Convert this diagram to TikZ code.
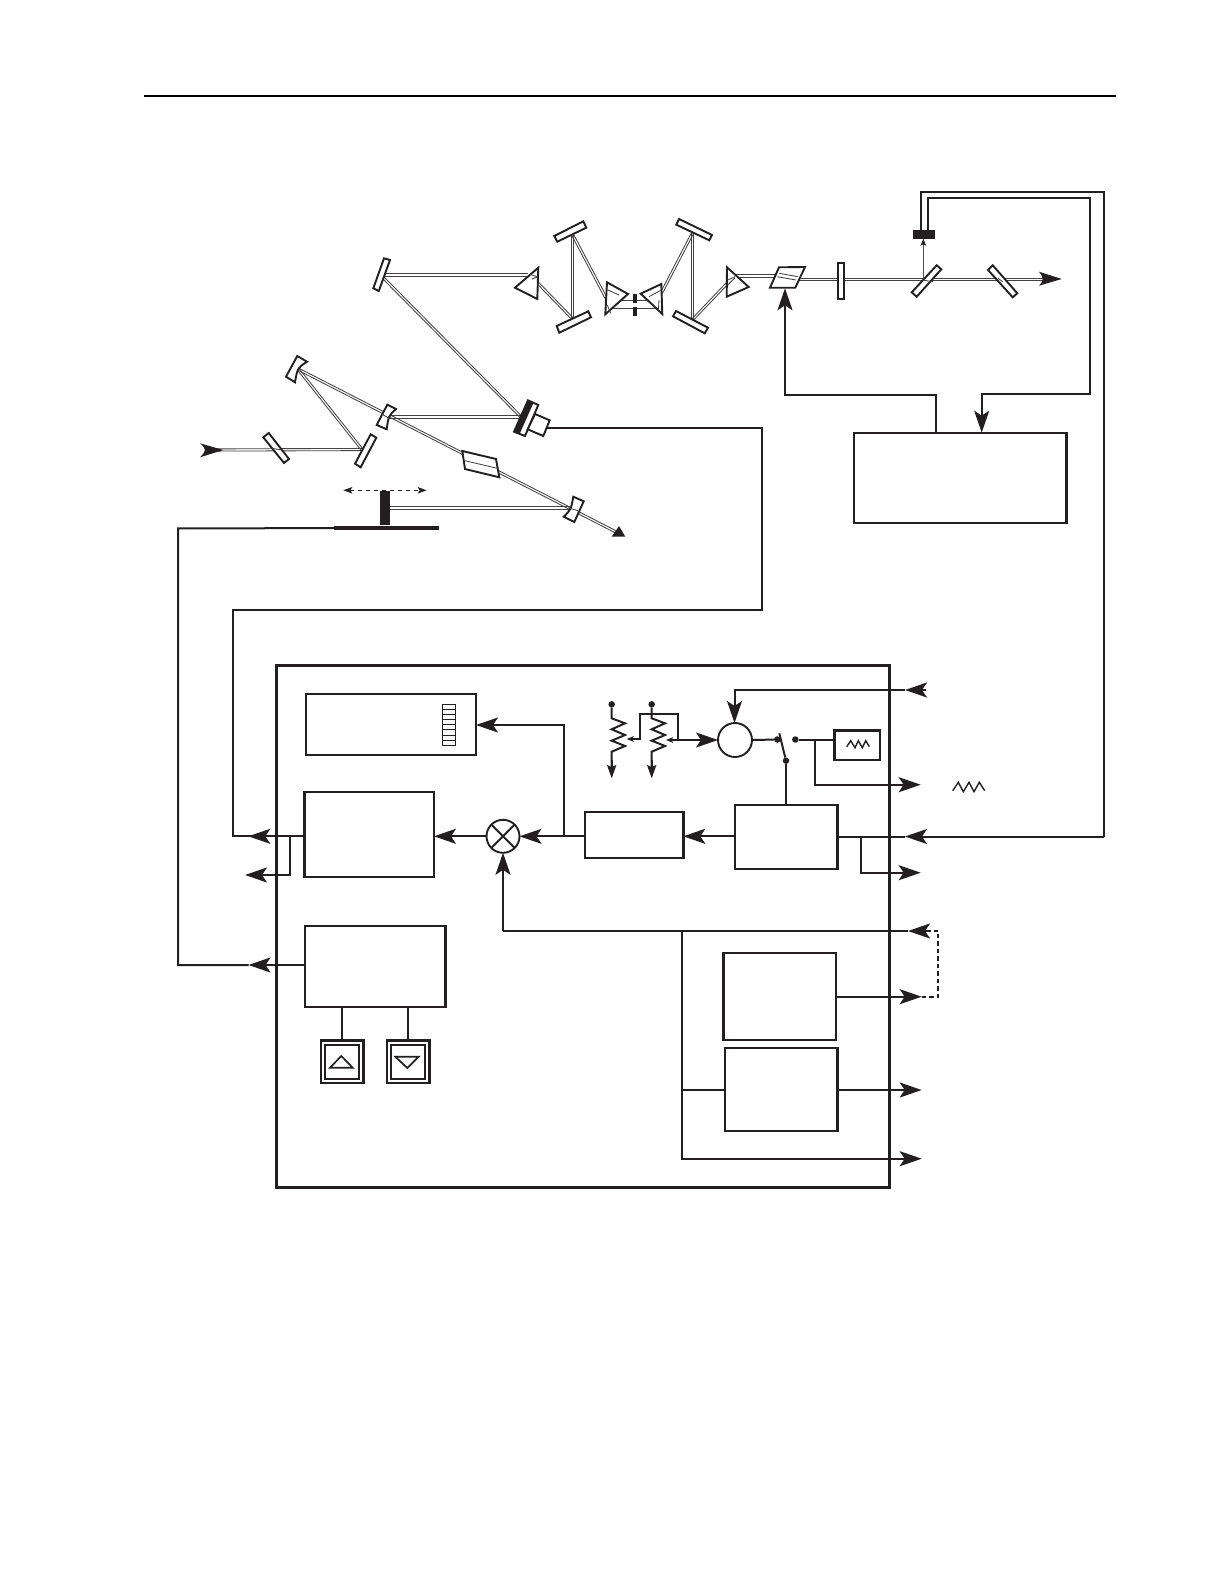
\documentclass[tikz,border=0pt]{standalone}
\usetikzlibrary{arrows.meta,calc}
\definecolor{ink}{HTML}{231F20}
\tikzset{
  x=1pt,y=-1pt,
  wire/.style={draw=ink,line width=2pt},
  bigtip/.style={-{Stealth[length=22pt,width=15pt,inset=5pt,color=ink]}},
  midtip/.style={-{Stealth[length=13pt,width=9pt,inset=1.5pt,color=ink]}},
  smalltip/.style={-{Stealth[length=7pt,width=5.5pt,inset=1.5pt,color=ink]}},
  ray/.style={draw=ink!85,line width=.85pt},
  optic/.style={draw=ink,line width=1.9pt,fill=white},
  blockbox/.style={draw=ink,line width=2.4pt,fill=white,inner sep=0pt,outer sep=0pt},
  solid ink/.style={fill=ink,draw=none,inner sep=0pt,outer sep=0pt},
  dot/.style={circle,fill=ink,draw=none,minimum size=6.5pt,inner sep=0pt,outer sep=0pt},
  ringnode/.style={circle,draw=ink,line width=1.9pt,fill=white,inner sep=0pt,outer sep=0pt},
}
\newcommand{\beamseg}[2]{%
  \draw[ray] ($(#1)!1.1pt!90:(#2)$) -- ($(#2)!1.1pt!-90:(#1)$);
  \draw[ray] ($(#1)!1.1pt!-90:(#2)$) -- ($(#2)!1.1pt!90:(#1)$);}
\begin{document}
\begin{tikzpicture}
\useasboundingbox (0,0) rectangle (1224,1584);
\draw[draw=black,line width=2pt] (144,95.7) -- (1116,95.7);

% ---------- beam way-points
\coordinate (bIn) at (212,450);
\coordinate (bTurnA) at (362,449.5);
\coordinate (bCurvA) at (298,369);
\coordinate (bCurvB) at (387,415);
\coordinate (bCurvC) at (573,508);
\coordinate (bDump) at (618,533);
\coordinate (bStage) at (388,508);
\coordinate (bDet) at (521,417);
\coordinate (bDetC) at (388,417);
\coordinate (bFold) at (382,276.5);
\coordinate (bFoldB) at (384,275);
\coordinate (bPrA) at (528,275);
\coordinate (bPrAo) at (533,278);
\coordinate (bMA) at (572.7,319);
\coordinate (bMB) at (572.7,235);
\coordinate (bPrB) at (606,298);
\coordinate (bPrC) at (661.5,293);
\coordinate (bMC) at (692.7,232.7);
\coordinate (bMD) at (692.7,319.5);
\coordinate (bPrD) at (727.5,283);
\coordinate (bPrDo) at (733,276);
\coordinate (bRhomb) at (780,276);
\coordinate (bRhombo) at (797,279.5);
\coordinate (bSplit) at (923.3,279.5);
\coordinate (bOut) at (1044,279.5);

% ---------- beams
\beamseg{bIn}{bTurnA}
\beamseg{bTurnA}{bCurvA}
\beamseg{bCurvA}{bDump}
\beamseg{bStage}{bCurvC}
\beamseg{bDetC}{bDet}
\beamseg{bDet}{bFold}
\beamseg{bFoldB}{bPrA}
\beamseg{bPrAo}{bMA}
\beamseg{bMA}{bMB}
\beamseg{bMB}{bPrB}
\draw[ray] (610,300.7) -- (661,300.7);
\draw[ray] (610,308.3) -- (661,308.3);
\beamseg{bPrC}{bMC}
\beamseg{bMC}{bMD}
\beamseg{bMD}{bPrD}
\beamseg{bPrDo}{bRhomb}
\beamseg{bRhombo}{bSplit}
\beamseg{bSplit}{bOut}

% ---------- mirrors, plates, prisms
\draw[optic] (373.3,288.3) -- (384,258.3) -- (390,260) -- (378.8,291) -- cycle;
\draw[optic] (263.3,437.3) -- (268.7,433) -- (289,459) -- (284,463) -- cycle;
\draw[optic] (355,463.7) -- (370.7,434.3) -- (376.3,437.7) -- (360.7,467.3) -- cycle;
\draw[optic] (286,376.7) -- (297.3,356) -- (307,361.7) .. controls (297.5,368) .. (295,382.3) -- cycle;
\draw[optic] (376.7,425) -- (387.3,404.7) -- (396,409) .. controls (388.5,416) .. (386.7,429.3) -- cycle;
\draw[optic] (573.3,496.7) -- (583.7,501.3) -- (574.3,522) -- (563.7,516.7) .. controls (571,509.5) .. (573.3,496.7) -- cycle;
\draw[optic] (462.3,451) -- (496,459) -- (499.3,477.3) -- (465,469) -- cycle;
\draw[optic] (554.3,236) -- (583.3,221.3) -- (586.3,227.7) -- (557.3,241.7) -- cycle;
\draw[optic] (556.7,326) -- (588.3,311.3) -- (591,317.3) -- (559.3,332.7) -- cycle;
\draw[optic] (679,219) -- (712,235) -- (709.3,240.3) -- (676.3,224.7) -- cycle;
\draw[optic] (676,311) -- (708,327.7) -- (704.7,333.3) -- (673,316.3) -- cycle;
\draw[optic] (538.3,267.7) -- (537.3,299) -- (515,287.7) -- cycle;
\draw[optic] (607,282.3) -- (628,294) -- (605.3,314.3) -- cycle;
\draw[optic] (661.3,284) -- (640.7,293.7) -- (662.3,314) -- cycle;
\draw[optic] (727,267.3) -- (748.7,287) -- (726.7,296.7) -- cycle;
\draw[optic] (779,267.3) -- (805,267) -- (795.3,287.7) -- (770,287.7) -- cycle;
\draw[optic] (837.7,262.7) rectangle (844,298.7);
\draw[optic] (911.7,292.3) -- (936.7,265.3) -- (941.3,269.3) -- (916.7,296.7) -- cycle;
\draw[optic] (988,270) -- (992.7,265.3) -- (1017.3,293.3) -- (1012.7,297.3) -- cycle;

% ---------- rays inside the optics
\draw[ray] (271.7,448.3) -- (281.7,450);
\draw[ray] (465,460.7) -- (497.3,468.3);
\draw[ray] (381.7,414) -- (389,418.3);
\draw[ray] (568,507.7) -- (578,510.7);
\draw[ray] (779.3,273.3) -- (797.7,276.7);
\draw[ray] (777.3,276.7) -- (796,280);
\draw[ray] (530,274.3) -- (537,276.7);
\draw[ray] (532,279) -- (537,277);
\draw[ray] (607.7,290) -- (619.3,295);
\draw[ray] (607.3,305) -- (610.7,313.3);
\draw[ray] (649,296.7) -- (661.3,290);
\draw[ray] (659,300) -- (658.3,311.7);
\draw[ray] (727.7,280) -- (735,276.7);
\draw[ray] (727.7,285) -- (735,277.7);
\draw[ray] (922.3,280) -- (933,281.7);
\draw[ray] (998,278.3) -- (1002.7,281.7);

% ---------- input and output heads of the beam
\fill[ink] (223.3,450) -- (200,443.3) .. controls (204,447) .. (205,450) .. controls (204,453) .. (200,457.3) -- cycle;
\fill[ink] (611.7,536.7) -- (625.3,536.7) -- (619,526) -- cycle;
\fill[ink] (1061.7,279) -- (1039,271.7) .. controls (1042,276) .. (1042.7,279) .. controls (1042,282) .. (1039,285.7) -- cycle;

% ---------- slit
\node[solid ink,minimum width=4pt,minimum height=8.4pt] (slitA) at (635,298.5) {};
\node[solid ink,minimum width=4pt,minimum height=8.7pt] (slitB) at (635,311.3) {};

% ---------- delay stage
\node[solid ink,minimum width=9.7pt,minimum height=34pt] (stage) at (385.2,508) {};
\node[solid ink,minimum width=104.7pt,minimum height=3.7pt] (rail) at (386.4,528.2) {};
\coordinate (stageL) at (343.3,490.3);
\coordinate (stageR) at (426.7,490.3);
\draw[ink,line width=1.3pt,dash pattern=on 4.5pt off 3.5pt,{Stealth[length=9pt,width=6.5pt,inset=2pt]}-{Stealth[length=9pt,width=6.5pt,inset=2pt]}] (stageL) -- (stageR);

% ---------- detector (black plate, window, housing)
\draw[optic] (514,431.7) -- (528,400.3) -- (538.3,405) -- (525,436) -- cycle;
\fill[ink] (514,431.7) -- (528,400.3) -- (533.5,402.8) -- (519.5,434.2) -- cycle;
\draw[optic] (535,414) -- (549.7,420.3) -- (543.3,436) -- (527.7,429.3) -- cycle;

% ---------- pick-off detector
\node[solid ink,minimum width=22pt,minimum height=9pt] (pd) at (924,234.2) {};
\coordinate (upFrom) at (923.3,279);
\draw[draw=ink!80,line width=1.2pt,smalltip] (upFrom) -- (pd.south -| upFrom);

% ---------- blocks
\node[blockbox,minimum width=212.7pt,minimum height=90pt] (ctrl) at (960.3,477.7) {};
\draw[draw=ink,line width=2.7pt] (276.3,665.5) rectangle (889.3,1187.5);
\node[blockbox,minimum width=170pt,minimum height=61pt] (disp) at (391,724.5) {};
\node[blockbox,minimum width=129.3pt,minimum height=85pt] (amp) at (369.3,834.5) {};
\node[blockbox,minimum width=98.6pt,minimum height=46pt] (servo) at (634,835) {};
\node[blockbox,minimum width=102.3pt,minimum height=64pt] (lockin) at (786.2,837) {};
\node[blockbox,minimum width=140.6pt,minimum height=81pt] (motor) at (375,966.2) {};
\node[blockbox,minimum width=45.7pt,minimum height=29.3pt] (ramp) at (857.2,745.3) {};
\node[blockbox,minimum width=112.3pt,minimum height=87.3pt] (boxD) at (779.8,996.4) {};
\node[blockbox,minimum width=112.6pt,minimum height=83pt] (boxE) at (781,1089.2) {};

% bar indicator
\draw[ink,line width=.9pt] (442.7,704.3) rectangle (455.7,745.3);
\foreach \yy in {709.4,714.5,719.7,724.8,729.9,735,740.2}
  \draw[ink,line width=.9pt] (442.7,\yy) -- (455.7,\yy);

% ---------- multiplier and summing circle
\node[ringnode,minimum size=33pt] (mult) at (503,836.3) {};
\draw[ink,line width=1.9pt] (mult.north west) -- (mult.south east) (mult.north east) -- (mult.south west);
\node[ringnode,minimum size=34pt] (sum) at (735,740) {};

% ---------- wires of the servo chain
\coordinate (jDet) at (546,428.3);
\coordinate (w1) at (761.5,428.3);
\coordinate (w2) at (761.5,609.5);
\coordinate (w3) at (233.3,609.5);
\coordinate (w4) at (233.3,836.3);
\coordinate (jAmp) at (290,836.3);
\coordinate (ampTip) at (248.3,836.3);
\coordinate (w5) at (290,875);
\coordinate (w6) at (245,875);
\draw[wire] (jDet) -- (w1) -- (w2) -- (w3) -- (w4) -- (jAmp);
\draw[wire] (amp.west |- w4) -- (jAmp);
\draw[wire,bigtip] (jAmp) -- (ampTip);
\draw[wire,bigtip] (jAmp) -- (w5) -- (w6);

\coordinate (s1) at (178,528.3);
\coordinate (s2) at (178,965);
\coordinate (s3) at (248.5,965);
\draw[wire] (rail.west) -- (s1) -- (s2) -- (s3);
\draw[wire,bigtip] (motor.west |- s2) -- (s3);

\draw[wire,bigtip] (mult.west) -- (amp.east |- mult.west);
\coordinate (jSrv) at (563.6,836.3);
\coordinate (jDisp) at (563.6,725);
\draw[wire,bigtip] (servo.west |- jSrv) -- (mult.east);
\draw[wire,bigtip] (jSrv) -- (jDisp) -- (disp.east |- jDisp);
\draw[wire,bigtip] (lockin.west |- jSrv) -- (servo.east |- jSrv);

% right-hand connections of the lock-in
\coordinate (railR) at (1104,836.5);
\coordinate (inTip) at (905,836.5);
\coordinate (jLock) at (860.7,836.5);
\coordinate (lock2) at (860.7,872.7);
\coordinate (lockOut) at (920.7,872.7);
\draw[wire] (lockin.east |- jLock) -- (jLock);
\draw[wire,bigtip] (railR) -- (inTip);
\draw[wire] (inTip) -- (jLock);
\draw[wire,bigtip] (jLock) -- (lock2) -- (lockOut);

% pick-off detector to lock-in and to the control box
\coordinate (pa) at (920.7,191.7);
\coordinate (pb) at (1104,191.7);
\coordinate (pc) at (927.7,198.3);
\coordinate (pd1) at (1090,198.3);
\coordinate (pd2) at (1090,394);
\coordinate (pd3) at (981.7,394);
\draw[wire] (pd.north -| pa) -- (pa) -- (pb) -- (railR);
\draw[wire] (pd.north -| pc) -- (pc) -- (pd1) -- (pd2) -- (pd3);
\draw[wire,bigtip] (pd2) -- (pd3) -- (ctrl.north -| pd3);

\coordinate (c1) at (936,395);
\coordinate (c2) at (785,395);
\coordinate (c3) at (785,288.3);
\draw[wire,bigtip] (ctrl.north -| c1) -- (c1) -- (c2) -- (c3);

% set-point network
\coordinate (extIn) at (905,690);
\coordinate (extC) at (734.5,690);
\coordinate (extEnd) at (925.7,690);
\draw[wire,bigtip] (extIn) -- (extC) -- (sum.north -| extC);
\draw[wire,bigtip] (extEnd) -- (extIn);

\node[dot] (ra) at (611.7,704.3) {};
\node[dot] (rb) at (651.7,704.3) {};
\draw[wire] (ra) -- (611.7,718.3) -- (625,723.3) -- (611.7,729.3) -- (625,735) -- (611.7,740.7) -- (625,746) -- (611.7,751.7) -- (611.7,766);
\draw[wire,midtip] (611.7,760) -- (611.7,778.3);
\draw[wire] (rb) -- (651.7,718.3) -- (665,723.3) -- (651.7,729.3) -- (665,735) -- (651.7,740.7) -- (665,746) -- (651.7,751.7) -- (651.7,766);
\draw[wire,midtip] (651.7,760) -- (651.7,778.3);
\coordinate (wip) at (666,740);
\coordinate (jw) at (678.3,740);
\draw[wire] (jw) -- (678.3,714) -- (640.3,714) -- (640.3,739) -- (632,739);
\draw[wire,smalltip] (633,739) -- (626.7,739);
\draw[wire,smalltip] (jw) -- (wip);
\draw[wire,bigtip] (jw) -- (sum.west);

% switch
\node[dot] (swA) at (777.3,739.5) {};
\node[dot] (swB) at (795.3,739.5) {};
\node[dot] (swC) at (786,760.7) {};
\coordinate (swTop) at (779.3,733.3);
\draw[wire] (sum.east) -- (swA);
\draw[wire] (swTop) -- (swC);
\draw[wire] (swC) -- (swC |- lockin.north);
\draw[wire] (swB) -- (ramp.west |- swB);
\coordinate (jr) at (815,739.5);
\coordinate (jr2) at (815,784.7);
\coordinate (rampOut) at (920.7,784.7);
\draw[wire,bigtip] (jr) -- (jr2) -- (rampOut);
% ramp glyphs
\draw[ink,line width=1.4pt] (846.7,746.7) -- (850.7,740.7) -- (855,747.7) -- (858.3,740.7) -- (862.3,747.7) -- (865.7,740.7) -- (869.3,746.7);
\draw[ink,line width=1.4pt] (952.7,790.7) -- (958.3,782.3) -- (963.3,791.7) -- (969,782.3) -- (974,791.7) -- (979.3,782.3) -- (984.7,790.7);

% lower bus
\coordinate (busR) at (908,931);
\coordinate (busL) at (503,931);
\coordinate (busEnd) at (925.7,931);
\coordinate (busJ) at (681.7,931);
\coordinate (busE) at (681.7,1090);
\coordinate (busB) at (681.7,1158.7);
\coordinate (busOut) at (921.7,1158.7);
\coordinate (eOut) at (921.7,1090);
\coordinate (dOut) at (921.7,996.7);
\draw[wire] (busR) -- (busL);
\draw[wire,bigtip] (busEnd) -- (busR);
\draw[wire,bigtip] (busL) -- (mult.south);
\draw[wire,bigtip] (busJ) -- (busB) -- (busOut);
\draw[wire] (busE) -- (boxE.west |- busE);
\draw[wire,bigtip] (boxE.east |- eOut) -- (eOut);
\draw[wire,bigtip] (boxD.east |- dOut) -- (dOut);
\coordinate (dd1) at (938.3,996.7);
\coordinate (dd2) at (938.3,931);
\draw[ink,line width=2pt,dash pattern=on 4.5pt off 3pt] (dOut) -- (dd1) -- (dd2) -- (busEnd);

% buttons
\node[blockbox,minimum width=42.6pt,minimum height=42.4pt] (btnUp) at (342,1061.5) {};
\node[draw=ink,line width=1.7pt,inner sep=0pt,outer sep=0pt,minimum width=34pt,minimum height=34pt] (btnUpIn) at (342,1061.7) {};
\node[blockbox,minimum width=42.6pt,minimum height=42.4pt] (btnDn) at (408,1061.5) {};
\node[draw=ink,line width=1.7pt,inner sep=0pt,outer sep=0pt,minimum width=34pt,minimum height=34pt] (btnDnIn) at (408,1061.7) {};
\draw[ink,line width=1.7pt] (330,1067.7) -- (352.7,1067.7) -- (341.3,1056) -- cycle;
\draw[ink,line width=1.7pt] (395.3,1056.7) -- (418.7,1056.7) -- (407.3,1068) -- cycle;
\draw[wire] (motor.south -| btnUp) -- (btnUp.north);
\draw[wire] (motor.south -| btnDn) -- (btnDn.north);
\end{tikzpicture}
\end{document}
